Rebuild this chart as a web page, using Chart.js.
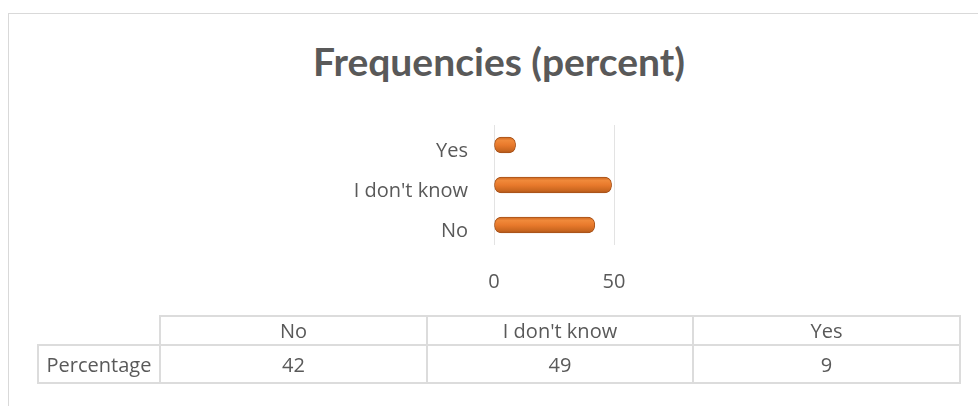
<!DOCTYPE html>
<html>
<head>
<meta charset="utf-8">
<script src="https://cdn.jsdelivr.net/npm/chart.js@4.4.1/dist/chart.umd.min.js"></script>
<style>
  html, body { margin: 0; padding: 0; background: #fff; overflow: hidden; }
  body { width: 978px; height: 406px; position: relative; font-family: 'Open Sans', sans-serif; }
  .frame { position: absolute; left: 8px; top: 13px; width: 1000px; height: 500px; border: 1px solid #d9d9d9; }
  .wrap { position: absolute; left: 0; top: 0; width: 978px; height: 406px; }
  .title { position: absolute; left: 299px; width: 400px; top: 36px; text-align: center;
           font-family: 'Lato', sans-serif; font-weight: bold; font-size: 39px; line-height: 50px; color: #595959; white-space: nowrap; }
  table.data { position: absolute; left: 37px; top: 315px; border-collapse: collapse; color: #595959; font-size: 20px; }
  table.data td { border: 2px solid #dcdcdc; text-align: center; padding: 0; }
  table.data tr.head td { height: 27px; }
  table.data tr.vals td { height: 36px; }
  table.data td.blank { border: none; }
</style>
</head>
<body>
<div class="frame"></div>
<div class="title" id="title"></div>
<div class="wrap"><canvas id="chart" width="978" height="406"></canvas></div>
<table class="data" id="tbl"></table>
<script>
// ---- dados ----
const chartTitle = 'Frequencies (percent)';
const categories = ['No', "I don't know", 'Yes'];
const values = [42, 49, 9];
const seriesName = 'Percentage';
const xTicks = [0, 50];

const textColor = '#595959';
const font = "'Open Sans', sans-serif";

document.getElementById('title').textContent = chartTitle;

// ---- tabela de dados sob o gráfico ----
(function buildTable() {
  const t = document.getElementById('tbl');
  const widths = [121, 265, 264, 265];
  let head = '<tr class="head"><td class="blank" style="width:' + widths[0] + 'px"></td>';
  categories.forEach((c, i) => { head += '<td style="width:' + widths[i + 1] + 'px">' + c + '</td>'; });
  head += '</tr>';
  let row = '<tr class="vals"><td>' + seriesName + '</td>';
  values.forEach((v) => { row += '<td>' + v + '</td>'; });
  row += '</tr>';
  t.innerHTML = head + row;
})();

// cilindro: gradiente vertical por barra
function cylinder(ctx) {
  const chart = ctx.chart;
  const ys = chart.scales && chart.scales.y;
  if (!chart.chartArea || !ys || ctx.dataIndex == null) return '#E97A2C';
  const cy = ys.getPixelForValue(ctx.dataIndex);
  const g = chart.ctx.createLinearGradient(0, cy - 8, 0, cy + 8);
  g.addColorStop(0, '#C9651F');
  g.addColorStop(0.22, '#F0893A');
  g.addColorStop(0.5, '#E97A2C');
  g.addColorStop(0.85, '#C9661F');
  g.addColorStop(1, '#A9531A');
  return g;
}

new Chart(document.getElementById('chart').getContext('2d'), {
  type: 'bar',
  data: {
    labels: categories,
    datasets: [{
      label: seriesName,
      data: values,
      backgroundColor: cylinder,
      borderColor: '#A9531A',
      borderWidth: 1,
      borderRadius: 7,
      borderSkipped: false,
      barThickness: 16,
    }],
  },
  options: {
    indexAxis: 'y',
    responsive: false,
    animation: false,
    layout: { padding: { left: 294, right: 364, top: 125, bottom: 111 } },
    plugins: {
      legend: { display: false },
      tooltip: { enabled: false },
      title: { display: false },
    },
    scales: {
      x: {
        min: 0, max: 50,
        afterFit: (s) => { s.height = 50; },
        afterBuildTicks: (s) => { s.ticks = xTicks.map((v) => ({ value: v })); },
        grid: { color: '#e3e3e3', drawTicks: false },
        border: { display: false },
        ticks: { color: textColor, font: { family: font, size: 20 }, padding: 25 },
      },
      y: {
        reverse: true,
        afterFit: (s) => { s.width = 200; },
        grid: { display: false, drawTicks: false },
        border: { display: false },
        ticks: { color: textColor, font: { family: font, size: 20 }, padding: 26, labelOffset: 6 },
      },
    },
  },
});
</script>
</body>
</html>
